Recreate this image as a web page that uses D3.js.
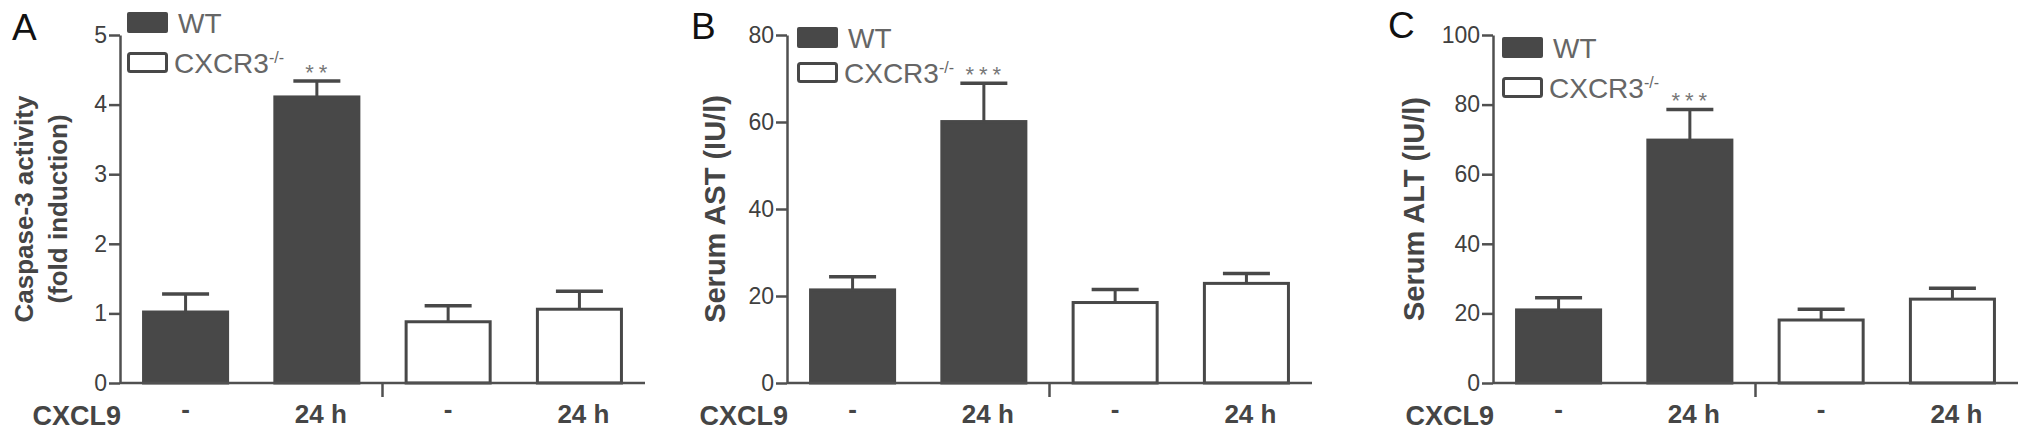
<!DOCTYPE html>
<html>
<head>
<meta charset="utf-8">
<script src="https://cdn.jsdelivr.net/npm/d3@7"></script>
<style>
  body { margin: 0; background: #fff; }
  svg { display: block; font-family: "Liberation Sans", Arial, sans-serif; }
</style>
</head>
<body>
<div id="chart"></div>
<script>
// values
var cxcl9 = ["-", "24 h", "-", "24 h"];
var strain = ["WT", "WT", "KO", "KO"];

var caspaseMean = [1.02, 4.11, 0.88, 1.06];
var caspaseSem = [0.26, 0.23, 0.23, 0.26];
var caspaseTicks = [0, 1, 2, 3, 4, 5];
var caspaseStars = ["", "**", "", ""];

var astMean = [21.4, 60.1, 18.5, 22.9];
var astSem = [3.0, 8.8, 3.0, 2.3];
var astTicks = [0, 20, 40, 60, 80];
var astStars = ["", "***", "", ""];

var altMean = [21.0, 69.8, 18.1, 24.1];
var altSem = [3.5, 8.8, 3.1, 3.1];
var altTicks = [0, 20, 40, 60, 80, 100];
var altStars = ["", "***", "", ""];

var width = 2031, height = 438;
var yBottom = 383, yTop = 35, axisLen = 525;
var dark = "#484848", axisCol = "#505050", textCol = "#454545";

var panels = [
  { letter: "A", lx: 12, ly: 40, x0: 120, mean: caspaseMean, sem: caspaseSem, ticks: caspaseTicks, stars: caspaseStars,
    title: ["Caspase-3 activity", "(fold induction)"], titleX: [33, 67], titleSize: 26, legX: 127, legY: [12, 52] },
  { letter: "B", lx: 691, ly: 39, x0: 787, mean: astMean, sem: astSem, ticks: astTicks, stars: astStars,
    title: ["Serum AST (IU/l)"], titleX: [725], titleSize: 29, legX: 797, legY: [27, 62] },
  { letter: "C", lx: 1388, ly: 38, x0: 1493, mean: altMean, sem: altSem, ticks: altTicks, stars: altStars,
    title: ["Serum ALT (IU/l)"], titleX: [1424], titleSize: 29, legX: 1502, legY: [37, 77] }
];

var svg = d3.select("#chart")
  .append("svg")
  .attr("width", width)
  .attr("height", height);

panels.forEach(function(p) {
  var g = svg.append("g");

  var y = d3.scaleLinear()
    .domain([0, d3.max(p.ticks)])
    .range([yBottom, yTop]);

  var x = d3.scaleBand()
    .domain(d3.range(p.mean.length))
    .range([p.x0, p.x0 + axisLen])
    .paddingInner(0.337)
    .paddingOuter(0.168);

  // panel letter
  g.append("text")
    .attr("x", p.lx)
    .attr("y", p.ly)
    .attr("font-size", 37)
    .attr("fill", "#111")
    .text(p.letter);

  // y axis title
  p.title.forEach(function(t, i) {
    g.append("text")
      .attr("transform", "translate(" + p.titleX[i] + "," + (yBottom + yTop) / 2 + ") rotate(-90)")
      .attr("text-anchor", "middle")
      .attr("font-size", p.titleSize)
      .attr("font-weight", "bold")
      .attr("fill", textCol)
      .text(t);
  });

  // bars
  g.selectAll(".bar")
    .data(p.mean)
    .enter().append("rect")
    .attr("class", "bar")
    .attr("x", function(d, i) { return x(i) + 1.5; })
    .attr("width", x.bandwidth() - 3)
    .attr("y", function(d) { return y(d); })
    .attr("height", function(d) { return yBottom - y(d); })
    .attr("fill", function(d, i) { return strain[i] === "WT" ? dark : "#fff"; })
    .attr("stroke", dark)
    .attr("stroke-width", 3);

  // error bars (upper only)
  var capW = 47;
  p.mean.forEach(function(m, i) {
    var cx = x(i) + x.bandwidth() / 2;
    var top = y(m + p.sem[i]);
    g.append("line")
      .attr("x1", cx).attr("x2", cx)
      .attr("y1", y(m)).attr("y2", top)
      .attr("stroke", dark).attr("stroke-width", 3);
    g.append("line")
      .attr("x1", cx - capW / 2).attr("x2", cx + capW / 2)
      .attr("y1", top).attr("y2", top)
      .attr("stroke", dark).attr("stroke-width", 3.5);
    if (p.stars[i]) {
      g.append("text")
        .attr("x", cx + 2)
        .attr("y", top - 1)
        .attr("text-anchor", "middle")
        .attr("font-size", 22)
        .attr("letter-spacing", 5)
        .attr("fill", "#777")
        .text(p.stars[i]);
    }
  });

  // y axis
  var yAxis = d3.axisLeft(y)
    .tickValues(p.ticks)
    .tickFormat(d3.format("d"))
    .tickSize(11)
    .tickSizeOuter(0)
    .tickPadding(2);

  var ya = g.append("g")
    .attr("transform", "translate(" + p.x0 + ",0)")
    .call(yAxis);
  ya.select(".domain").attr("stroke", axisCol).attr("stroke-width", 2.5);
  ya.selectAll(".tick line").attr("stroke", axisCol).attr("stroke-width", 2.5);
  ya.selectAll(".tick text")
    .attr("font-size", 23)
    .attr("font-family", "'Liberation Sans', Arial, sans-serif")
    .attr("fill", "#404040");

  // x axis line with middle tick
  var xr = x.range();
  g.append("line")
    .attr("x1", xr[0]).attr("x2", xr[1])
    .attr("y1", yBottom).attr("y2", yBottom)
    .attr("stroke", axisCol).attr("stroke-width", 2.5);
  var mid = (xr[0] + xr[1]) / 2;
  g.append("line")
    .attr("x1", mid).attr("x2", mid)
    .attr("y1", yBottom).attr("y2", yBottom + 14)
    .attr("stroke", axisCol).attr("stroke-width", 2.5);

  // treatment row
  g.append("text")
    .attr("x", p.x0 + 1)
    .attr("y", 425)
    .attr("text-anchor", "end")
    .attr("font-size", 27)
    .attr("font-weight", "bold")
    .attr("fill", textCol)
    .text("CXCL9");

  g.selectAll(".cat")
    .data(cxcl9)
    .enter().append("text")
    .attr("class", "cat")
    .attr("x", function(d, i) { return x(i) + x.bandwidth() / 2 + (d === "-" ? 0 : 4); })
    .attr("y", function(d) { return d === "-" ? 418 : 423; })
    .attr("text-anchor", "middle")
    .attr("font-size", 26)
    .attr("font-weight", "bold")
    .attr("fill", textCol)
    .text(function(d) { return d; });

  // legend
  var leg = g.append("g");
  leg.append("rect")
    .attr("x", p.legX).attr("y", p.legY[0])
    .attr("width", 41).attr("height", 21)
    .attr("rx", 2)
    .attr("fill", dark);
  leg.append("rect")
    .attr("x", p.legX + 1.5).attr("y", p.legY[1] + 1.5)
    .attr("width", 38).attr("height", 18)
    .attr("rx", 2)
    .attr("fill", "#fff")
    .attr("stroke", dark)
    .attr("stroke-width", 3);
  leg.append("text")
    .attr("x", p.legX + 51)
    .attr("y", p.legY[0] + 21)
    .attr("font-size", 28)
    .attr("fill", "#666")
    .text("WT");
  var ko = leg.append("text")
    .attr("x", p.legX + 47)
    .attr("y", p.legY[1] + 21)
    .attr("font-size", 28)
    .attr("fill", "#666");
  ko.append("tspan").text("CXCR3");
  ko.append("tspan")
    .attr("dy", -10)
    .attr("font-size", 16)
    .text("-/-");
});
</script>
</body>
</html>
